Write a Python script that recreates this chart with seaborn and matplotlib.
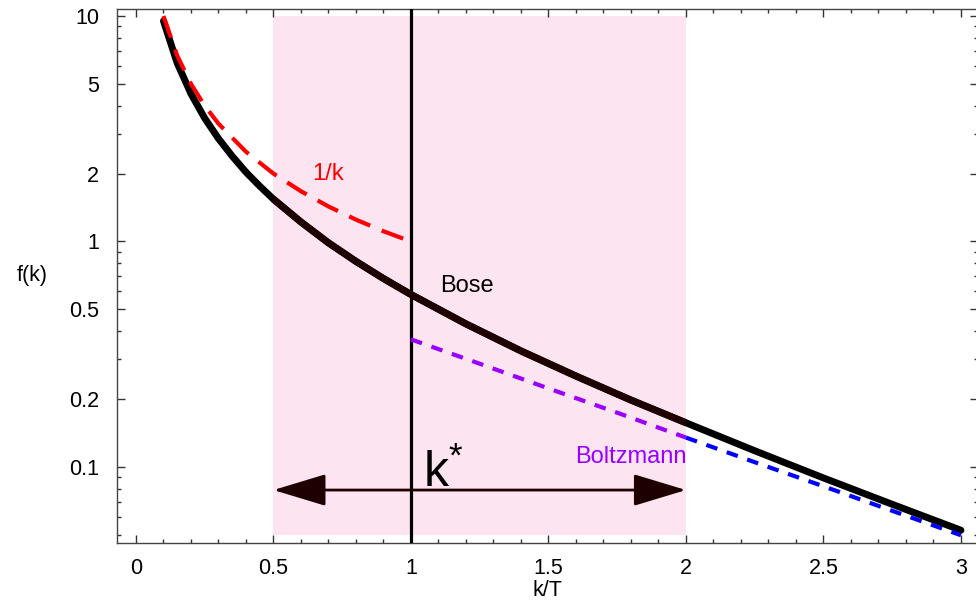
import numpy as np
import matplotlib
matplotlib.use("Agg")
import matplotlib.pyplot as plt
import seaborn as sns

# values
k_bose = [0.10, 0.15, 0.20, 0.25, 0.30, 0.35, 0.40, 0.45, 0.50, 0.60, 0.70, 0.80,
          0.90, 1.00, 1.20, 1.40, 1.60, 1.80, 2.00, 2.25, 2.50, 2.75, 3.00]
f_bose = [9.51, 6.18, 4.52, 3.52, 2.86, 2.39, 2.03, 1.76, 1.54, 1.22, 0.986, 0.816,
          0.685, 0.582, 0.431, 0.327, 0.253, 0.198, 0.157, 0.118, 0.0894, 0.0683, 0.0524]

k_inv = [0.10, 0.15, 0.20, 0.25, 0.30, 0.40, 0.50, 0.60, 0.70, 0.80, 0.90, 1.00]
f_inv = [10.0, 6.67, 5.0, 4.0, 3.33, 2.5, 2.0, 1.67, 1.43, 1.25, 1.11, 1.0]

k_boltz_mid = [1.00, 1.25, 1.50, 1.75, 2.00]
f_boltz_mid = [0.368, 0.287, 0.223, 0.174, 0.135]
k_boltz_hi = [2.00, 2.25, 2.50, 2.75, 3.00]
f_boltz_hi = [0.135, 0.105, 0.0821, 0.0639, 0.0498]

band = [0.5, 2.0]
k_star = 1.0

sns.set_style("ticks")
plt.rcParams['font.family'] = ['Liberation Sans', 'DejaVu Sans']
plt.rcParams['mathtext.fontset'] = 'custom'
plt.rcParams['mathtext.rm'] = 'Liberation Sans'
plt.rcParams['mathtext.it'] = 'Liberation Sans'
plt.rcParams['text.color'] = 'black'
plt.rcParams['axes.labelcolor'] = 'black'
plt.rcParams['xtick.labelcolor'] = 'black'
plt.rcParams['ytick.labelcolor'] = 'black'

fig = plt.figure(figsize=(9.76, 6.06), dpi=100)
ax = fig.add_axes([117/976, 63/606, 861/976, 534/606])
ax.set_yscale('log')
ax.set_xlim(-0.069, 3.062)
ax.set_ylim(0.046, 10.74)

# shaded region
ax.fill_between(band, [0.05, 0.05], [10, 10], color='#fde4f1', lw=0, zorder=0)
ax.axvline(k_star, color='black', lw=2.3, zorder=3)

kb = np.array(k_bose)
fb = np.array(f_bose)
sns.lineplot(x=kb, y=fb, ax=ax, color='black', lw=5, sort=False,
             solid_capstyle='round', zorder=4)
m = (kb >= band[0]) & (kb <= band[1])
sns.lineplot(x=kb[m], y=fb[m], ax=ax, color='#1e0000', lw=5, sort=False,
             solid_capstyle='butt', zorder=4)

sns.lineplot(x=k_inv, y=f_inv, ax=ax, color='#ff0000', lw=3, sort=False,
             linestyle=(0, (5.5, 3)), zorder=5)
sns.lineplot(x=k_boltz_mid, y=f_boltz_mid, ax=ax, color='#9900ff', lw=3, sort=False,
             linestyle=(0, (2.8, 2.4)), zorder=5)
sns.lineplot(x=k_boltz_hi, y=f_boltz_hi, ax=ax, color='#0000ff', lw=3, sort=False,
             linestyle=(0, (2.8, 2.4)), zorder=5)

ax.annotate('', xy=(band[0], 0.079), xytext=(band[1], 0.079),
            arrowprops=dict(arrowstyle='<|-|>,head_length=3.3,head_width=1.0',
                            mutation_scale=10, color='#1e0000', lw=2,
                            shrinkA=0, shrinkB=0), zorder=6)

ax.text(1.044, 0.0815, 'k$^{*}$', fontsize=36, va='baseline', ha='left')
ax.text(1.105, 0.594, 'Bose', fontsize=17, va='baseline', ha='left')
ax.text(0.64, 1.865, '1/k', fontsize=17, va='baseline', ha='left', color='#ff0000')
ax.text(1.596, 0.104, 'Boltzmann', fontsize=17, va='baseline', ha='left', color='#9900ff')

ax.set_xticks([0, 0.5, 1, 1.5, 2, 2.5, 3])
ax.set_xticklabels(['0', '0.5', '1', '1.5', '2', '2.5', '3'])
ax.set_xticks(np.arange(0, 3.05, 0.1), minor=True)
ax.set_yticks([0.1, 0.2, 0.5, 1, 2, 5, 10])
ax.set_yticklabels(['0.1', '0.2', '0.5', '1', '2', '5', '10'])
ax.set_yticks([0.05, 0.06, 0.07, 0.08, 0.09, 0.3, 0.4, 0.6, 0.7, 0.8, 0.9,
               3, 4, 6, 7, 8, 9], minor=True)
ax.yaxis.set_minor_formatter(matplotlib.ticker.NullFormatter())
ax.tick_params(which='both', direction='in', top=True, right=True,
               labelsize=15.5, color='#333333', width=1)
ax.tick_params(which='major', length=6)
ax.tick_params(which='minor', length=3)
ax.tick_params(axis='x', pad=11)
ax.tick_params(axis='y', pad=13)
for s in ax.spines.values():
    s.set_color('#444444')
    s.set_linewidth(1)

ax.set_xlabel('k/T', fontsize=15.5)
ax.xaxis.set_label_coords(0.5, -0.07)
ax.set_ylabel('f(k)', fontsize=15.5, rotation=0, va='center', ha='center')
ax.yaxis.set_label_coords(-0.0987, 0.5)

fig.savefig('out.png', dpi=100)
